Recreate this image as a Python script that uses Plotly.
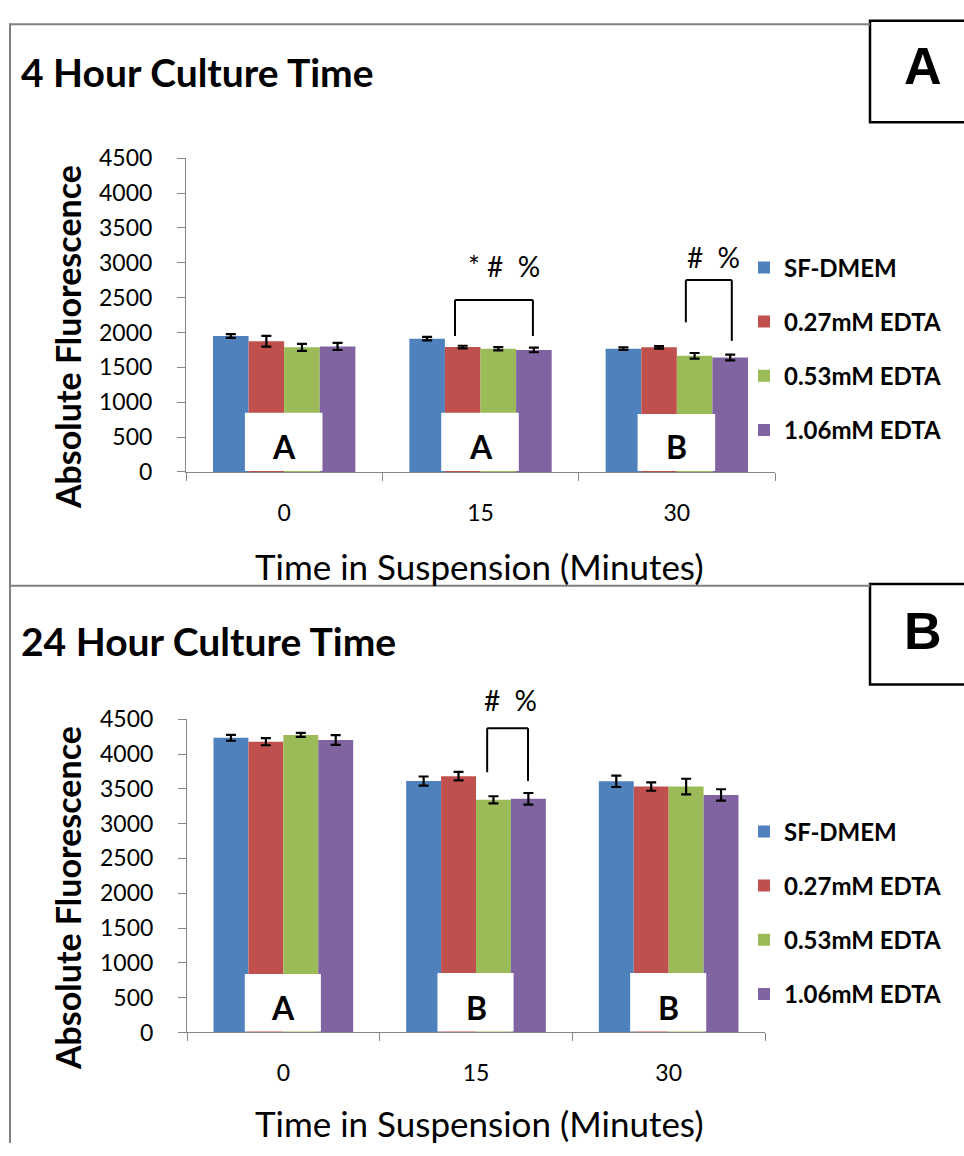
import plotly.graph_objects as go

# ---------------- data ----------------
times = ["0", "15", "30"]
series = ["SF-DMEM", "0.27mM EDTA", "0.53mM EDTA", "1.06mM EDTA"]
colors = ["#4F81BD", "#C0504D", "#9BBB59", "#8064A2"]

h4_sf = [1950, 1912, 1768]
h4_027 = [1875, 1791, 1787]
h4_053 = [1787, 1768, 1666]
h4_106 = [1800, 1750, 1642]
h4_sf_err = [26, 26, 19]
h4_027_err = [77, 19, 19]
h4_053_err = [51, 23, 40]
h4_106_err = [51, 33, 42]

h24_sf = [4233, 3612, 3608]
h24_027 = [4177, 3682, 3533]
h24_053 = [4275, 3342, 3533]
h24_106 = [4201, 3356, 3412]
h24_sf_err = [42, 65, 82]
h24_027_err = [51, 61, 61]
h24_053_err = [28, 51, 112]
h24_106_err = [70, 84, 82]

h4_groups = ["A", "A", "B"]
h24_groups = ["A", "B", "B"]

y_ticks = [0, 500, 1000, 1500, 2000, 2500, 3000, 3500, 4000, 4500]
Y_MAX = 4500

panel_titles = ["4 Hour Culture Time", "24 Hour Culture Time"]
panel_letters = ["A", "B"]
x_title = "Time in Suspension (Minutes)"
y_title = "Absolute Fluorescence"

# significance brackets: (x_left, x_right, y_top, y_left_end, y_right_end, label, label_x, label_y)
h4_brackets = [
    (0.87, 1.267, 2468, 1950, 1950, "* #  %", 1.12, 2958),
    (2.046, 2.28, 2752, 2146, 1880, "#  %", 2.186, 3084),
]
h24_brackets = [
    (1.058, 1.27, 4369, 3738, 3612, "#  %", 1.178, 4780),
]

# ---------------- figure ----------------
W, H = 964, 1156
FONT = "Lato"


def px_x(p):
    return p / W


def px_y(p):
    return 1 - p / H


fig = go.Figure()

panels = [
    dict(vals=[h4_sf, h4_027, h4_053, h4_106],
         errs=[h4_sf_err, h4_027_err, h4_053_err, h4_106_err],
         xa="x", ya="y", legend="legend", tag="4h",
         groups=h4_groups, brackets=h4_brackets, box_tops=[850, 850, 830]),
    dict(vals=[h24_sf, h24_027, h24_053, h24_106],
         errs=[h24_sf_err, h24_027_err, h24_053_err, h24_106_err],
         xa="x2", ya="y2", legend="legend2", tag="24h",
         groups=h24_groups, brackets=h24_brackets, box_tops=[840, 855, 855]),
]

shapes = []
annotations = []

for p in panels:
    for name, col, v, e in zip(series, colors, p["vals"], p["errs"]):
        fig.add_trace(go.Bar(
            x=times, y=v, name=name,
            marker=dict(color=col, line=dict(width=0)),
            error_y=dict(type="data", array=e, visible=True,
                         color="black", thickness=2.2, width=5),
            xaxis=p["xa"], yaxis=p["ya"], legend=p["legend"],
            legendgroup=name + p["tag"], showlegend=True,
        ))
    # white label boxes + letters
    for i, (g, top) in enumerate(zip(p["groups"], p["box_tops"])):
        shapes.append(dict(type="rect", xref=p["xa"], yref=p["ya"],
                           x0=i - 0.2, x1=i + 0.195, y0=12, y1=top,
                           fillcolor="white", line=dict(width=0), layer="above"))
        annotations.append(dict(x=i, y=360, xref=p["xa"], yref=p["ya"], text=g,
                                showarrow=False, yanchor="middle",
                                font=dict(family=FONT, size=32, color="black", weight="bold")))
    # brackets
    for (xl, xr, yt, yl, yr, lab, lx, ly) in p["brackets"]:
        ln = dict(color="black", width=2)
        for (a0, b0, a1, b1) in [(xl, yl, xl, yt), (xl, yt, xr, yt), (xr, yt, xr, yr)]:
            shapes.append(dict(type="line", xref=p["xa"], yref=p["ya"],
                               x0=a0, y0=b0, x1=a1, y1=b1, line=ln, layer="above"))
        annotations.append(dict(x=lx, y=ly / Y_MAX, xref=p["xa"], yref=p["ya"] + " domain",
                                text=lab, showarrow=False, yanchor="middle",
                                font=dict(family=FONT, size=28, color="black")))

# panel titles, axis titles, panel letters
title_y = [58, 642]
ytitle_y = [330, 905]
xtitle_y = [565, 1135]
box_y = [(6, 110), (583, 686)]
letter_y = [52, 631]
for k in range(2):
    annotations.append(dict(x=px_x(19), y=px_y(title_y[k]), xref="paper", yref="paper",
                            text=panel_titles[k], showarrow=False, xanchor="left", yanchor="middle",
                            font=dict(family=FONT, size=39, color="black", weight="bold")))
    annotations.append(dict(x=px_x(67), y=px_y(ytitle_y[k]), xref="paper", yref="paper",
                            text=y_title, showarrow=False, textangle=-90,
                            xanchor="center", yanchor="middle",
                            font=dict(family=FONT, size=34, color="black", weight="bold")))
    annotations.append(dict(x=px_x(479), y=px_y(xtitle_y[k]), xref="paper", yref="paper",
                            text=x_title, showarrow=False, xanchor="center", yanchor="middle",
                            font=dict(family=FONT, size=35, color="black")))
    shapes.append(dict(type="rect", xref="paper", yref="paper",
                       x0=px_x(870), x1=px_x(975), y0=px_y(box_y[k][1]), y1=px_y(box_y[k][0]),
                       fillcolor="white", line=dict(color="black", width=2.5), layer="above"))
    annotations.append(dict(x=px_x(923), y=px_y(letter_y[k]), xref="paper", yref="paper",
                            text=panel_letters[k], showarrow=False, xanchor="center", yanchor="middle",
                            font=dict(family="Liberation Sans", size=52, color="black", weight="bold")))

# gray frame
frame = dict(color="#7f7f7f", width=2)
shapes.append(dict(type="line", xref="paper", yref="paper", x0=px_x(10), x1=px_x(10),
                   y0=0, y1=px_y(9), line=frame))
shapes.append(dict(type="line", xref="paper", yref="paper", x0=px_x(9), x1=px_x(870),
                   y0=px_y(9.5), y1=px_y(9.5), line=frame))
shapes.append(dict(type="line", xref="paper", yref="paper", x0=px_x(9), x1=px_x(870),
                   y0=px_y(585), y1=px_y(585), line=frame))

axis_common_x = dict(type="category", range=[-0.5, 2.5], showline=True, linecolor="#868686",
                     linewidth=1, ticks="outside", tickson="boundaries", ticklen=8,
                     tickcolor="#868686", showgrid=False, zeroline=False,
                     tickfont=dict(family=FONT, size=23, color="black"),
                     ticklabelstandoff=20, fixedrange=True)
axis_common_y = dict(range=[0, Y_MAX], tickvals=y_ticks, showline=True, linecolor="#868686",
                     linewidth=1, ticks="outside", ticklen=8, tickcolor="#868686",
                     showgrid=False, zeroline=False,
                     tickfont=dict(family=FONT, size=23, color="black"),
                     ticklabelstandoff=20, fixedrange=True)

legend_common = dict(xanchor="left", yanchor="top", bgcolor="rgba(0,0,0,0)",
                     font=dict(family=FONT, size=24, color="black", weight="bold"),
                     tracegroupgap=20, itemclick=False, itemdoubleclick=False)

fig.update_layout(
    width=W, height=H, margin=dict(l=0, r=0, t=0, b=0),
    paper_bgcolor="white", plot_bgcolor="white",
    barmode="group", bargap=0.275, bargroupgap=0,
    xaxis=dict(domain=[px_x(186), px_x(775)], anchor="y", **axis_common_x),
    yaxis=dict(domain=[px_y(468.3), px_y(146.8)], anchor="x", **axis_common_y),
    xaxis2=dict(domain=[px_x(187), px_x(765)], anchor="y2", **axis_common_x),
    yaxis2=dict(domain=[px_y(1042.7), px_y(721.7)], anchor="x2", **axis_common_y),
    legend=dict(x=px_x(744), y=px_y(236), **legend_common),
    legend2=dict(x=px_x(744), y=px_y(814), **legend_common),
    shapes=shapes, annotations=annotations,
    showlegend=True,
)

fig.write_html("out.html", config={"displayModeBar": False},
               post_script="document.body.style.margin='0';document.body.style.overflow='hidden';")
